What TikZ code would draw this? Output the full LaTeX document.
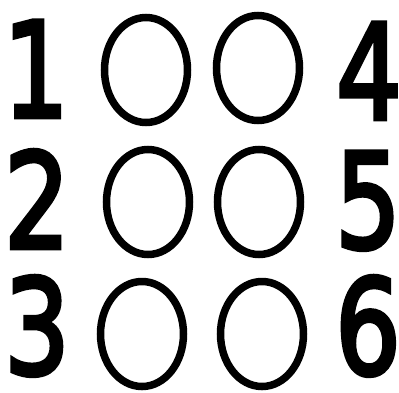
\documentclass[tikz,border=0pt]{standalone}
\usepackage{fontspec}
\newfontfamily\digitfont[FakeBold=3.5]{DejaVu Sans}
\usetikzlibrary{shapes.geometric}
\tikzset{
  digit/.style={font=\fontsize{132}{132}\digitfont, inner sep=0pt, text height=96pt, text depth=0pt, anchor=center, xscale=0.78},
  ring/.style={draw, ellipse, line width=7.5pt, minimum width=83pt, minimum height=105pt, inner sep=0pt}
}
\begin{document}
\begin{tikzpicture}[x=1pt,y=-1pt]
\useasboundingbox (0,0) rectangle (399,392);
\node[digit] (d1) at (36,69) {1};
\node[digit] (d2) at (37,200) {2};
\node[digit] (d3) at (37,326) {3};
\node[digit] (d4) at (369,71) {4};
\node[digit] (d5) at (368,200) {5};
\node[digit] (d6) at (368,326) {6};
\node[ring] (e11) at (146,70) {};
\node[ring] (e12) at (258,68) {};
\node[ring] (e21) at (148,202) {};
\node[ring] (e22) at (259,202) {};
\node[ring] (e31) at (142,334) {};
\node[ring] (e32) at (262,334) {};
\end{tikzpicture}
\end{document}
